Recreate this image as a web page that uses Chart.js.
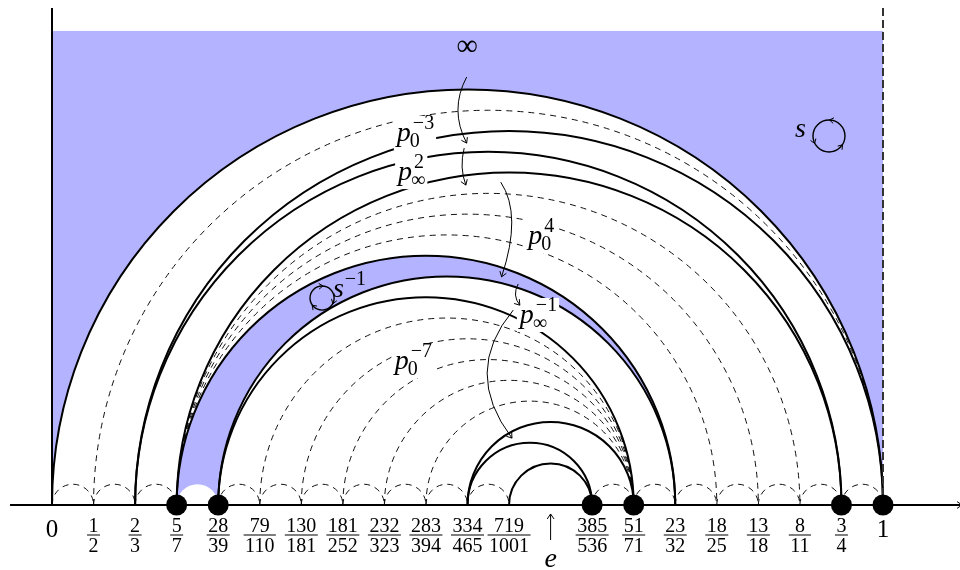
<!DOCTYPE html>
<html>
<head>
<meta charset="utf-8">
<title>Boundary arcs</title>
<script src="https://cdn.jsdelivr.net/npm/chart.js@4.4.1/dist/chart.umd.min.js"></script>
<style>
  html, body { margin: 0; padding: 0; background: #fff; }
  canvas { display: block; }
</style>
</head>
<body>
<canvas id="diagram" width="960" height="570"></canvas>
<script>
// Boundary points, evenly spaced: slot i sits at x = i
const tickLabels = ['0', '1/2', '2/3', '5/7', '28/39', '79/110', '130/181', '181/252', '232/323',
  '283/394', '334/465', '719/1001', 'e', '385/536', '51/71', '23/32', '18/25', '13/18', '8/11', '3/4', '1'];

// Geodesics, each given as [left slot, right slot]
const solidArcs = [[0, 20], [2, 20], [2, 19], [3, 19], [3, 15], [4, 15], [4, 14], [10, 14], [10, 13], [11, 13]];
const dashedArcs = [[1, 20], [3, 18], [3, 17], [3, 16], [5, 14], [6, 14], [7, 14], [8, 14], [9, 14]];
const smallDashedArcs = [[0, 1], [1, 2], [2, 3], [4, 5], [5, 6], [6, 7], [7, 8], [8, 9], [9, 10], [10, 11],
  [13, 14], [14, 15], [15, 16], [16, 17], [17, 18], [18, 19], [19, 20]];

// Filled half-discs, painted in this order over the shaded strip
const halfDiscLayers = [
  { span: [0, 20], shaded: false },
  { span: [3, 15], shaded: true },
  { span: [4, 15], shaded: false },
  { span: [3, 4], shaded: false }
];

// Fixed points on the boundary
const markedSlots = [3, 4, 13, 14, 19, 20];

// Extent of the shaded strip and of the axes (data units)
const stripHeight = 11.41;
const axisTop = 11.96;
const axisLeft = -1.01;

// Word labels: base letter with subscript and superscript, anchored at (x, y)
const wordLabels = [
  { base: 'p', sub: '0', sup: '−3', x: 8.30, y: 8.76 },
  { base: 'p', sub: '∞', sup: '2', x: 8.33, y: 7.82 },
  { base: 'p', sub: '0', sup: '4', x: 11.46, y: 6.28 },
  { base: 'p', sub: '∞', sup: '−1', x: 11.26, y: 4.38 },
  { base: 'p', sub: '0', sup: '−7', x: 8.25, y: 3.27 }
];

// Curved arrows between arcs: start, control, end
const flowArrows = [
  [9.98, 10.30, 9.56, 9.51, 9.98, 8.71],
  [9.92, 8.59, 9.80, 8.12, 9.96, 7.70],
  [10.80, 7.77, 11.32, 6.99, 10.82, 5.49],
  [11.22, 5.32, 11.07, 5.04, 11.26, 4.81],
  [11.10, 4.69, 9.86, 3.20, 11.07, 1.61]
];

// Rotation generators: label, loop centre, loop radius, sense, arrow-tip angles (deg)
const rotations = [
  { text: 's', sup: '', x: 17.88, y: 8.86, cx: 18.70, cy: 8.88, r: 0.385, sense: 1, tips: [-81, 40, 160] },
  { text: 's', sup: '−1', x: 6.76, y: 5.01, cx: 6.50, cy: 4.98, r: 0.29, sense: -1, tips: [-95, 18, 135] }
];

const infinityLabel = { text: '∞', x: 9.99, y: 11.02 };

const BLUE = '#b3b3ff';
const SERIF = '"Liberation Serif", "DejaVu Serif", serif';

function arrowTip(ctx, x, y, dx, dy, size) {
  const len = Math.hypot(dx, dy) || 1;
  const ux = dx / len, uy = dy / len, a = 0.6;
  const c = Math.cos(a), s = Math.sin(a);
  ctx.beginPath();
  ctx.moveTo(x - size * (ux * c - uy * s), y - size * (ux * s + uy * c));
  ctx.lineTo(x, y);
  ctx.lineTo(x - size * (ux * c + uy * s), y - size * (-ux * s + uy * c));
  ctx.stroke();
}

const diagramPlugin = {
  id: 'diagram',
  beforeDatasetsDraw(chart) {
    const { ctx, scales } = chart;
    const X = v => scales.x.getPixelForValue(v);
    const Y = v => scales.y.getPixelForValue(v);
    const y0 = Y(0);
    const halfDisc = ([a, b]) => {
      const xa = X(a), xb = X(b);
      ctx.beginPath();
      ctx.arc((xa + xb) / 2, y0, Math.abs(xb - xa) / 2, Math.PI, 2 * Math.PI);
    };
    ctx.save();
    // shaded strip
    ctx.fillStyle = BLUE;
    ctx.fillRect(X(0), Y(stripHeight), X(20) - X(0), y0 - Y(stripHeight));
    // layered half-discs
    halfDiscLayers.forEach(layer => {
      halfDisc(layer.span);
      ctx.closePath();
      ctx.fillStyle = layer.shaded ? BLUE : '#ffffff';
      ctx.fill();
    });
    // dashed geodesics
    ctx.strokeStyle = '#111';
    ctx.lineWidth = 1;
    ctx.setLineDash([6, 5]);
    [...dashedArcs, ...smallDashedArcs].forEach(span => { halfDisc(span); ctx.stroke(); });
    // solid geodesics
    ctx.setLineDash([]);
    ctx.lineWidth = 2;
    ctx.strokeStyle = '#000';
    solidArcs.forEach(span => { halfDisc(span); ctx.stroke(); });
    // dashed right edge of the strip
    ctx.setLineDash([8, 4]);
    ctx.strokeStyle = '#333';
    ctx.lineWidth = 2;
    ctx.beginPath();
    ctx.moveTo(X(20), Y(axisTop));
    ctx.lineTo(X(20), y0);
    ctx.stroke();
    ctx.setLineDash([]);
    // axes
    ctx.strokeStyle = '#000';
    ctx.lineWidth = 2;
    ctx.beginPath();
    ctx.moveTo(X(axisLeft), y0);
    ctx.lineTo(chart.chartArea.right, y0);
    ctx.moveTo(X(0), Y(axisTop));
    ctx.lineTo(X(0), y0);
    ctx.stroke();
    ctx.lineWidth = 1;
    arrowTip(ctx, chart.chartArea.right + 2, y0, 1, 0, 6);
    ctx.restore();
  },
  afterDatasetsDraw(chart) {
    const { ctx, scales } = chart;
    const X = v => scales.x.getPixelForValue(v);
    const Y = v => scales.y.getPixelForValue(v);
    const y0 = Y(0);
    ctx.save();
    ctx.fillStyle = '#000';
    ctx.strokeStyle = '#000';
    ctx.textBaseline = 'alphabetic';

    // word labels, each on a white patch
    wordLabels.forEach(l => {
      const x = X(l.x), y = Y(l.y);
      ctx.font = 'italic 28px ' + SERIF;
      const w = ctx.measureText(l.base).width;
      ctx.font = '20px ' + SERIF;
      const ws = Math.max(ctx.measureText(l.sub).width - 3, ctx.measureText(l.sup).width);
      ctx.fillStyle = '#fff';
      ctx.fillRect(x - 3, y - 25, w + ws + 7, 34);
      ctx.fillStyle = '#000';
      ctx.font = 'italic 28px ' + SERIF;
      ctx.textAlign = 'left';
      ctx.fillText(l.base, x, y);
      ctx.font = '20px ' + SERIF;
      ctx.fillText(l.sub, x + w - 1, y + 6);
      ctx.fillText(l.sup, x + w + 2, y - 12);
    });

    // curved arrows
    ctx.lineWidth = 1;
    flowArrows.forEach(([ax, ay, cx, cy, bx, by]) => {
      const p0 = [X(ax), Y(ay)], c = [X(cx), Y(cy)], p1 = [X(bx), Y(by)];
      ctx.beginPath();
      ctx.moveTo(p0[0], p0[1]);
      ctx.quadraticCurveTo(c[0], c[1], p1[0], p1[1]);
      ctx.stroke();
      arrowTip(ctx, p1[0], p1[1], p1[0] - c[0], p1[1] - c[1], 6);
    });

    // infinity
    ctx.font = '30px ' + SERIF;
    ctx.textAlign = 'center';
    ctx.textBaseline = 'middle';
    ctx.fillText(infinityLabel.text, X(infinityLabel.x), Y(infinityLabel.y));
    ctx.textBaseline = 'alphabetic';

    // rotation loops
    rotations.forEach(rot => {
      const cx = X(rot.cx), cy = Y(rot.cy);
      const r = Math.abs(X(rot.cx + rot.r) - cx);
      ctx.lineWidth = 1.4;
      ctx.beginPath();
      ctx.arc(cx, cy, r, 0, 2 * Math.PI);
      ctx.stroke();
      ctx.lineWidth = 1;
      rot.tips.forEach(deg => {
        const t = deg * Math.PI / 180;
        const px = cx + r * Math.cos(t), py = cy + r * Math.sin(t);
        const dx = rot.sense * Math.sin(t), dy = -rot.sense * Math.cos(t);
        arrowTip(ctx, px + dx * 2, py + dy * 2, dx, dy, 5);
      });
      const x = X(rot.x), y = Y(rot.y);
      ctx.textAlign = 'left';
      ctx.font = 'italic 28px ' + SERIF;
      ctx.fillText(rot.text, x, y);
      const w = ctx.measureText(rot.text).width;
      if (rot.sup) {
        ctx.font = '20px ' + SERIF;
        ctx.fillText(rot.sup, x + w + 1, y - 12);
      }
    });

    // boundary labels
    ctx.textAlign = 'center';
    tickLabels.forEach((label, i) => {
      const cx = X(i);
      if (label.includes('/')) {
        const [n, d] = label.split('/');
        ctx.font = '20px ' + SERIF;
        ctx.fillText(n, cx, y0 + 27);
        ctx.fillText(d, cx, y0 + 47);
        const w = Math.max(ctx.measureText(n).width, ctx.measureText(d).width) + 3;
        ctx.fillRect(cx - w / 2, y0 + 29.5, w, 1);
      } else if (label === 'e') {
        ctx.lineWidth = 1;
        ctx.beginPath();
        ctx.moveTo(cx, y0 + 35);
        ctx.lineTo(cx, y0 + 9);
        ctx.stroke();
        arrowTip(ctx, cx, y0 + 9, 0, -1, 6);
        ctx.font = 'italic 28px ' + SERIF;
        ctx.fillText(label, cx, y0 + 62);
      } else {
        ctx.font = '25px ' + SERIF;
        ctx.fillText(label, cx, y0 + 32);
      }
    });
    ctx.restore();
  }
};

// Pixel scale: one slot = 41.55 px on both axes, so half-discs stay round
const X_MIN = -1.2515, X_MAX = 21.8532;
const Y_MIN = -1.5644, Y_MAX = 12.1540;

new Chart(document.getElementById('diagram'), {
  type: 'scatter',
  data: {
    datasets: [{
      data: markedSlots.map(i => ({ x: i, y: 0 })),
      pointRadius: 10.5,
      pointHoverRadius: 10.5,
      pointBackgroundColor: '#000',
      pointBorderWidth: 0,
      clip: false
    }]
  },
  options: {
    responsive: false,
    animation: false,
    events: [],
    layout: { padding: 0, autoPadding: false },
    plugins: { legend: { display: false }, tooltip: { enabled: false }, title: { display: false } },
    scales: {
      x: { type: 'linear', min: X_MIN, max: X_MAX, display: false },
      y: { type: 'linear', min: Y_MIN, max: Y_MAX, display: false }
    }
  },
  plugins: [diagramPlugin]
});
</script>
</body>
</html>
